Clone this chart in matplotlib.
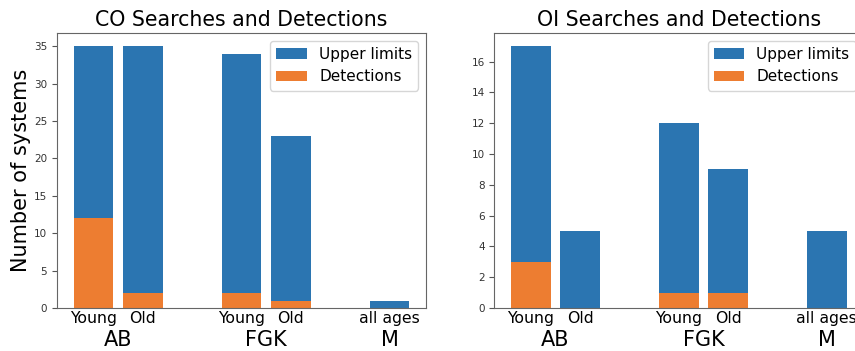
import matplotlib
matplotlib.use("Agg")
import matplotlib.pyplot as plt
import matplotlib.transforms as mtransforms

# ---- data ----
positions = [0, 1, 3, 4, 6]
age_labels = ["Young", "Old", "Young", "Old", "all ages"]
group_labels = ["AB", "FGK", "M"]
group_positions = [0.5, 3.5, 6]

co_detections = [12, 2, 2, 1, 0]
co_upper = [23, 33, 32, 22, 1]

oi_detections = [3, 0, 1, 1, 0]
oi_upper = [14, 5, 11, 8, 5]

co_yticks = [0, 5, 10, 15, 20, 25, 30, 35]
oi_yticks = [0, 2, 4, 6, 8, 10, 12, 14, 16]

blue = "#2b75b1"
orange = "#ed7d31"

fig = plt.figure(figsize=(8.55, 3.51), dpi=100)
W, H = 855, 351


def make_ax(left_px):
    return fig.add_axes([left_px / W, (H - 308) / H, 369 / W, 275 / H])


def draw(ax, det, upper, title, yticks, ylabel=None):
    ax.bar(positions, upper, width=0.8, bottom=det, color=blue,
           label="Upper limits")
    ax.bar(positions, det, width=0.8, color=orange, label="Detections")
    ax.set_xticks(positions)
    ax.set_xticklabels(age_labels, fontsize=11.3)
    ax.set_yticks(yticks)
    ax.tick_params(axis="y", labelsize=7.5, colors="#333333")
    ax.tick_params(axis="x", length=0, pad=2)
    ax.tick_params(axis="y", color="#555555")
    for s in ax.spines.values():
        s.set_color("#666666")
    ax.set_title(title, fontsize=14.8, pad=5)
    trans = mtransforms.blended_transform_factory(ax.transData, ax.transAxes)
    for gx, gl in zip(group_positions, group_labels):
        ax.text(gx, -0.118, gl, transform=trans, ha="center", va="center",
                fontsize=15)
    if ylabel:
        ax.set_ylabel(ylabel, fontsize=15)
        ax.yaxis.set_label_coords(-0.07, 0.5)
    ax.legend(loc="upper right", fontsize=11)


ax1 = make_ax(57)
draw(ax1, co_detections, co_upper, "CO Searches and Detections", co_yticks,
     ylabel="Number of systems")

ax2 = make_ax(494.3)
draw(ax2, oi_detections, oi_upper, "OI Searches and Detections", oi_yticks)

fig.savefig("out.png", dpi=100)
